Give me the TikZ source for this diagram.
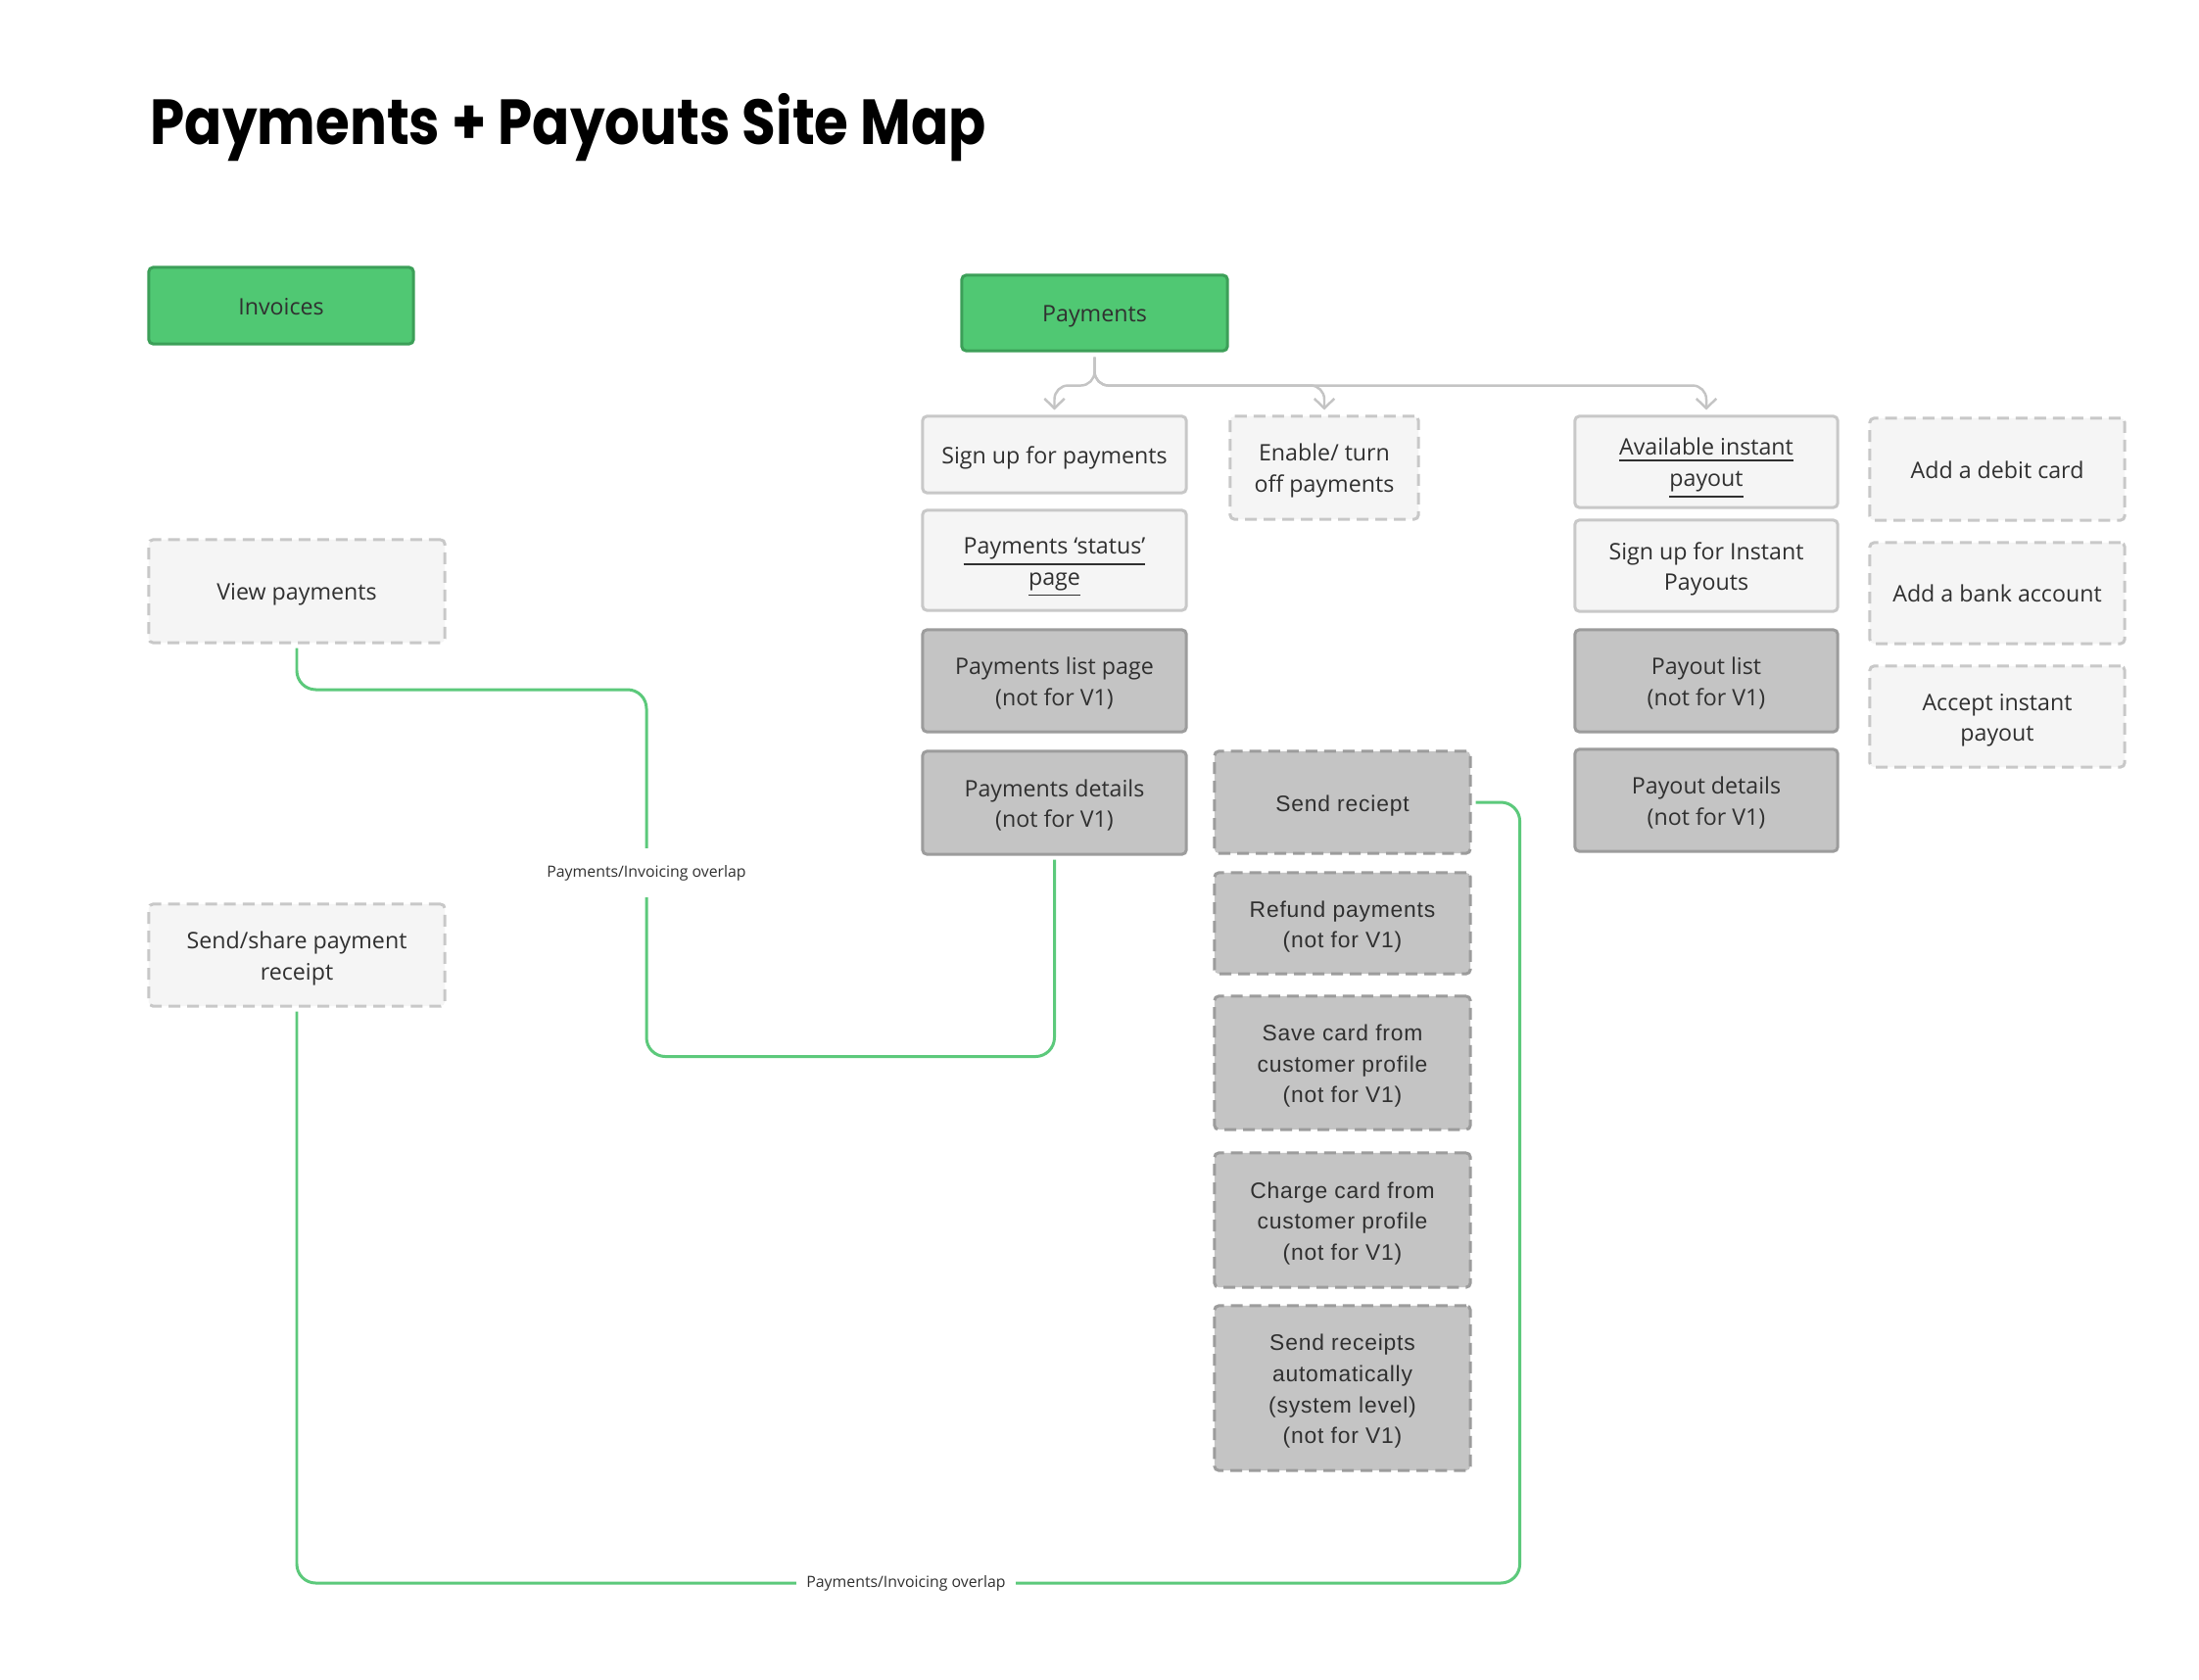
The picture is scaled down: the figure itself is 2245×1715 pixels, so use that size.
\documentclass[tikz,border=0pt]{standalone}
\usepackage{fontspec}
\setmainfont{Open Sans}
\newfontfamily\titlefont{Poppins}
\newfontfamily\widefont[LetterSpace=3.5]{Liberation Sans}
\usetikzlibrary{arrows.meta,calc}
\newcommand\T[1]{\begin{tabular}{@{}c@{}}\rule{0pt}{8pt}#1\end{tabular}}
\newcommand\U[1]{\smash{\underline{#1}}}
\definecolor{gfill}{HTML}{50C873}
\definecolor{gdraw}{HTML}{3C9F58}
\definecolor{lfill}{HTML}{F5F5F5}
\definecolor{ldraw}{HTML}{C8C8C8}
\definecolor{dfill}{HTML}{C4C4C4}
\definecolor{ddraw}{HTML}{9C9C9C}
\definecolor{txt}{HTML}{303030}
\definecolor{gline}{HTML}{5CC97B}
\definecolor{cgray}{HTML}{C4C4C4}
\tikzset{
  box/.style={rectangle, rounded corners=1.2pt, line width=0.85pt, align=center,
    text=txt, font=\fontsize{6.6}{9}\selectfont, inner sep=1pt},
  greenbox/.style={box, fill=gfill, draw=gdraw},
  lightbox/.style={box, fill=lfill, draw=ldraw},
  lightdash/.style={lightbox, dash pattern=on 0.12cm off 0.07cm},
  graybox/.style={box, fill=dfill, draw=ddraw},
  graydash/.style={graybox, dash pattern=on 0.12cm off 0.07cm},
  widetxt/.style={font=\widefont\fontsize{6.5}{9}\selectfont},
  conn/.style={draw=cgray, line width=0.7pt, rounded corners=4pt,
    -{Straight Barb[length=2.8pt,width=5.8pt]}},
  gl/.style={draw=gline, line width=0.85pt, rounded corners=5.5pt},
  lbl/.style={fill=white, text=txt, font=\fontsize{4.5}{5}\selectfont,
    inner xsep=0.1cm, inner ysep=0.17cm}
}
\begin{document}
\begin{tikzpicture}[x=0.01cm,y=-0.01cm]
\fill[white] (0,0) rectangle (2245,1715);
\useasboundingbox (0,0) rectangle (2245,1715);

\node[anchor=base west, inner sep=0, text=black,
  font=\titlefont\bfseries\fontsize{18.5}{20}\selectfont] (title) at (153,147)
  {\scalebox{0.866}[1]{Payments + Payouts Site Map}};

% top level
\node[greenbox, minimum width=2.70cm, minimum height=0.78cm] (inv) at (287,312) {\T{Invoices}};
\node[greenbox, minimum width=2.71cm, minimum height=0.77cm] (pay) at (1117.5,319.5) {\T{Payments}};

% payments column
\node[lightbox, minimum width=2.69cm, minimum height=0.78cm] (signup) at (1076.5,464) {\T{Sign up for payments}};
\node[lightbox, minimum width=2.69cm, minimum height=1.02cm] (status) at (1076.5,572) {\T{\U{Payments ‘status’}\\\U{page}}};
\node[graybox, minimum width=2.69cm, minimum height=1.04cm] (plist) at (1076.5,695) {\T{Payments list page\\(not for V1)}};
\node[graybox, minimum width=2.69cm, minimum height=1.05cm] (pdet) at (1076.5,819.5) {\T{Payments details\\(not for V1)}};

% enable column
\node[lightdash, minimum width=1.92cm, minimum height=1.05cm] (enable) at (1352,477.5) {\T{Enable/ turn\\off payments}};
\node[graydash, widetxt, minimum width=2.61cm, minimum height=1.04cm] (sendr) at (1370.5,819) {\T{Send reciept}};
\node[graydash, widetxt, minimum width=2.61cm, minimum height=1.03cm] (refund) at (1370.5,942.5) {\T{Refund payments\\(not for V1)}};
\node[graydash, widetxt, minimum width=2.61cm, minimum height=1.36cm] (save) at (1370.5,1085) {\T{Save card from\\customer profile\\(not for V1)}};
\node[graydash, widetxt, minimum width=2.61cm, minimum height=1.37cm] (charge) at (1370.5,1245.5) {\T{Charge card from\\customer profile\\(not for V1)}};
\node[graydash, widetxt, minimum width=2.61cm, minimum height=1.68cm] (auto) at (1370.5,1417) {\T{Send receipts\\automatically\\(system level)\\(not for V1)}};

% payouts column
\node[lightbox, minimum width=2.68cm, minimum height=0.93cm] (avail) at (1742,471.5) {\T{\U{Available instant}\\\U{payout}}};
\node[lightbox, minimum width=2.68cm, minimum height=0.93cm] (signinst) at (1742,577.5) {\T{Sign up for Instant\\Payouts}};
\node[graybox, minimum width=2.68cm, minimum height=1.04cm] (polist) at (1742,695) {\T{Payout list\\(not for V1)}};
\node[graybox, minimum width=2.68cm, minimum height=1.04cm] (podet) at (1742,817) {\T{Payout details\\(not for V1)}};

% right column
\node[lightdash, minimum width=2.60cm, minimum height=1.04cm] (debit) at (2039,479) {\T{Add a debit card}};
\node[lightdash, minimum width=2.60cm, minimum height=1.03cm] (bank) at (2039,605.5) {\T{Add a bank account}};
\node[lightdash, minimum width=2.60cm, minimum height=1.03cm] (accept) at (2039,731.5) {\T{Accept instant\\payout}};

% invoices column
\node[lightdash, minimum width=3.02cm, minimum height=1.05cm] (view) at (303,603.5) {\T{View payments}};
\node[lightdash, minimum width=3.02cm, minimum height=1.04cm] (share) at (303,975) {\T{Send/share payment\\receipt}};

% brace connectors from Payments
\coordinate (bt) at ($(pay.south)+(0,5)$);
\draw[conn] (bt) -- ($(bt)+(0,29)$) -| ($(signup.north)+(0,-5)$);
\draw[conn] (bt) -- ($(bt)+(0,29)$) -| ($(enable.north)+(0,-5)$);
\draw[conn] (bt) -- ($(bt)+(0,29)$) -| ($(avail.north)+(0,-5)$);

% green overlap connectors
\coordinate (g1) at (660,704);
\draw[gl] ($(view.south)+(0,4)$) |- (g1) |- ($(pdet.south)+(0,205)$) -- ($(pdet.south)+(0,4)$);
\node[lbl] (l1) at (660,891) {Payments/Invoicing overlap};

\draw[gl] ($(share.south)+(0,4)$) |- ($(sendr.east)+(49,797)$) -- ($(sendr.east)+(49,0)$) -- ($(sendr.east)+(4,0)$);
\node[lbl] (l2) at (925,1616) {Payments/Invoicing overlap};
\end{tikzpicture}
\end{document}
